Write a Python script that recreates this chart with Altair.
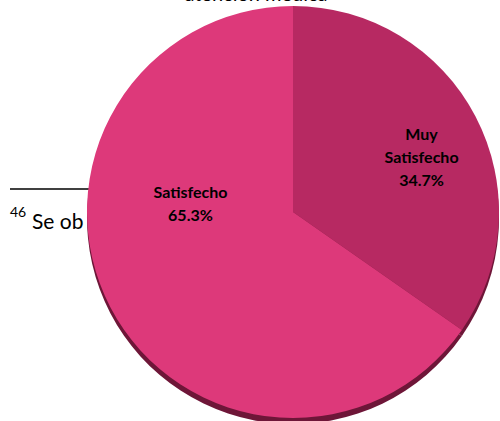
import altair as alt
import pandas as pd

# Satisfaction with medical care
categories = ["Muy Satisfecho", "Satisfecho"]
label_lines = ["Muy\nSatisfecho", "Satisfecho"]
percentages = [34.7, 65.3]
slice_order = [0, 1]
slice_colors = ["#B72962", "#DD397A"]

title_text = "atención médica"
footnote_mark = "46"
footnote_text = "Se ob"

df = pd.DataFrame({
    "categoria": categories,
    "linea": label_lines,
    "pct": percentages,
    "orden": slice_order,
})

CX, CY, R = 293, 212, 206
FONT = "Lato"

base = alt.Chart(df)

theta = alt.Theta("pct:Q", stack=True)
order = alt.Order("orden:Q")

shadow = base.mark_arc(radius=R, color="#6E1638").encode(
    theta=theta, order=order, x=alt.value(CX), y=alt.value(CY + 6)
)

pie = base.mark_arc(radius=R).encode(
    theta=theta,
    order=order,
    color=alt.Color("categoria:N", scale=alt.Scale(domain=categories, range=slice_colors), legend=None),
    x=alt.value(CX),
    y=alt.value(CY),
)

labelled = base.transform_calculate(
    etiqueta="datum.linea + '\\n' + format(datum.pct, '.1f') + '%'"
)

def slice_label(cat, radius, dx, dy):
    # label positioned from the slice's stacked mid-angle, stacking kept over the full table
    return labelled.mark_text(
        radius=radius, dx=dx, dy=dy, font=FONT, fontWeight="bold", fontSize=16,
        lineBreak="\n", lineHeight=23, color="black", align="center", baseline="middle",
    ).encode(
        theta=theta, order=order,
        text=alt.condition(alt.datum.categoria == cat, "etiqueta:N", alt.value("")),
        x=alt.value(CX), y=alt.value(CY),
    )

lab_muy = slice_label("Muy Satisfecho", 145, 0, -10)
lab_sat = slice_label("Satisfecho", 110, -5, -70)

title = alt.Chart(pd.DataFrame({"t": [title_text]})).mark_text(
    font=FONT, fontSize=20, align="center", baseline="alphabetic", color="black"
).encode(text="t:N", x=alt.value(256), y=alt.value(1))

rule = alt.Chart(pd.DataFrame({"a": [0]})).mark_rule(color="black", strokeWidth=1.5).encode(
    x=alt.value(10), x2=alt.value(150), y=alt.value(189)
)

note_num = alt.Chart(pd.DataFrame({"t": [footnote_mark]})).mark_text(
    font=FONT, fontSize=14, align="left", baseline="alphabetic", color="black"
).encode(text="t:N", x=alt.value(10), y=alt.value(217))

note_txt = alt.Chart(pd.DataFrame({"t": [footnote_text]})).mark_text(
    font=FONT, fontSize=21, align="left", baseline="alphabetic", color="black"
).encode(text="t:N", x=alt.value(32), y=alt.value(229))

chart = alt.layer(
    title, rule, note_num, note_txt, shadow, pie, lab_muy, lab_sat
).properties(
    width=500, height=421, autosize=alt.AutoSizeParams(type="none"), padding=0
).configure_view(stroke=None)

chart.save("out.html", embed_options={"renderer": "svg", "actions": False})
